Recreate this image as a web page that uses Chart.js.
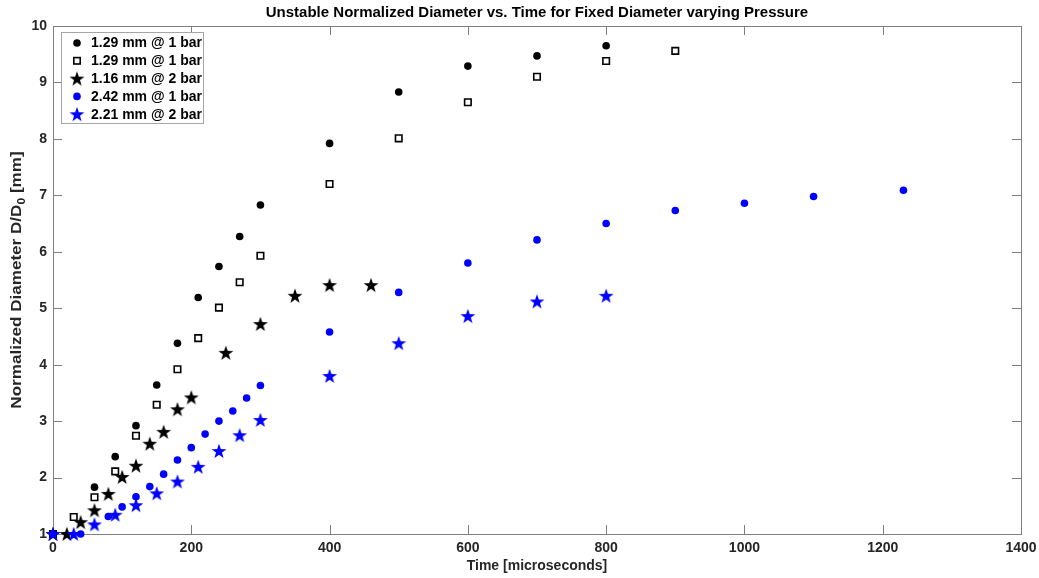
<!DOCTYPE html>
<html>
<head>
<meta charset="utf-8">
<script src="https://cdn.jsdelivr.net/npm/chart.js@4.4.1/dist/chart.umd.min.js"></script>
<style>
  body { margin: 0; background: #fff; }
  #wrap { width: 1039px; height: 578px; }
</style>
</head>
<body>
<div id="wrap"><canvas id="chart" width="1039" height="578"></canvas></div>
<script>
// time in microseconds, normalized diameter D/D0
const dot129T = [0, 60, 90, 120, 150, 180, 210, 240, 270, 300, 400, 500, 600, 700, 800];
const dot129D = [1, 1.83, 2.37, 2.92, 3.64, 4.38, 5.19, 5.74, 6.27, 6.83, 7.92, 8.83, 9.29, 9.47, 9.65];

const sq129T = [0, 30, 60, 90, 120, 150, 180, 210, 240, 270, 300, 400, 500, 600, 700, 800, 900];
const sq129D = [1, 1.3, 1.65, 2.11, 2.74, 3.29, 3.92, 4.47, 5.01, 5.46, 5.93, 7.2, 8.01, 8.65, 9.1, 9.38, 9.56];

const star116T = [0, 20, 40, 60, 80, 100, 120, 140, 160, 180, 200, 250, 300, 350, 400, 460];
const star116D = [1, 1, 1.21, 1.42, 1.71, 2.01, 2.21, 2.6, 2.81, 3.21, 3.42, 4.21, 4.72, 5.22, 5.41, 5.41];

const dot242T = [0, 40, 80, 100, 120, 140, 160, 180, 200, 220, 240, 260, 280, 300, 400, 500, 600, 700, 800, 900, 1000, 1100, 1230];
const dot242D = [1, 1, 1.31, 1.48, 1.66, 1.84, 2.06, 2.31, 2.53, 2.77, 3.0, 3.18, 3.41, 3.63, 4.58, 5.28, 5.8, 6.21, 6.5, 6.73, 6.86, 6.98, 7.09];

const star221T = [0, 30, 60, 90, 120, 150, 180, 210, 240, 270, 300, 400, 500, 600, 700, 800];
const star221D = [1, 1, 1.17, 1.34, 1.51, 1.72, 1.93, 2.19, 2.47, 2.75, 3.02, 3.8, 4.38, 4.86, 5.12, 5.22];

const xTicks = [0, 200, 400, 600, 800, 1000, 1200, 1400];
const yTicks = [1, 2, 3, 4, 5, 6, 7, 8, 9, 10];

const FONT = "'Liberation Sans', Arial, Helvetica, sans-serif";
const AXIS_GRAY = '#7f7f7f';
const TEXT_DARK = '#262626';
const BLUE = '#0000ff';
const TITLE = 'Unstable Normalized Diameter vs. Time for Fixed Diameter varying Pressure';

function pts(t, d) {
  return t.map((v, i) => ({ x: v, y: d[i] }));
}

// filled five point star, matlab pentagram style
function makeStar(color, R) {
  const s = Math.ceil(R * 2 + 2);
  const c = document.createElement('canvas');
  c.width = s; c.height = s;
  const g = c.getContext('2d');
  g.beginPath();
  for (let i = 0; i < 10; i++) {
    const r = i % 2 ? R * 0.4 : R;
    const a = -Math.PI / 2 + i * Math.PI / 5;
    g.lineTo(s / 2 + r * Math.cos(a), s / 2 + 0.6 + r * Math.sin(a));
  }
  g.closePath();
  g.fillStyle = color;
  g.fill();
  return c;
}
const blackStar = makeStar('#000', 7.8);
const blueStar = makeStar(BLUE, 7.8);

const series = [
  { label: '1.29 mm @ 1 bar', data: pts(dot129T, dot129D), pointStyle: 'circle', pointRadius: 3.8,
    backgroundColor: '#000', borderColor: '#000', borderWidth: 0, order: 5 },
  { label: '1.29 mm @ 1 bar', data: pts(sq129T, sq129D), pointStyle: 'rect', pointRadius: 4.6,
    backgroundColor: 'rgba(0,0,0,0)', borderColor: '#000', borderWidth: 1.6, order: 4 },
  { label: '1.16 mm @ 2 bar', data: pts(star116T, star116D), pointStyle: blackStar, pointRadius: 8,
    backgroundColor: '#000', borderColor: '#000', borderWidth: 0, order: 3 },
  { label: '2.42 mm @ 1 bar', data: pts(dot242T, dot242D), pointStyle: 'circle', pointRadius: 3.8,
    backgroundColor: BLUE, borderColor: BLUE, borderWidth: 0, order: 2 },
  { label: '2.21 mm @ 2 bar', data: pts(star221T, star221D), pointStyle: blueStar, pointRadius: 8,
    backgroundColor: BLUE, borderColor: BLUE, borderWidth: 0, order: 1 }
];
series.forEach(s => { s.showLine = false; s.clip = false; s.pointHoverRadius = s.pointRadius; });

// title over the axes, box, inward ticks, y title with subscript, legend
const matlabLook = {
  id: 'matlabLook',
  beforeDatasetsDraw(chart) {
    const { ctx, chartArea: a, scales: { x, y } } = chart;
    ctx.save();
    ctx.fillStyle = '#000';
    ctx.font = 'bold 15px ' + FONT;
    ctx.textAlign = 'center';
    ctx.textBaseline = 'middle';
    ctx.fillText(TITLE, (a.left + a.right) / 2, 13);

    ctx.strokeStyle = AXIS_GRAY;
    ctx.lineWidth = 1;
    ctx.strokeRect(Math.round(a.left) + 0.5, Math.round(a.top) + 0.5,
      Math.round(a.right - a.left), Math.round(a.bottom - a.top));
    ctx.beginPath();
    xTicks.forEach(v => {
      const px = Math.round(x.getPixelForValue(v)) + 0.5;
      ctx.moveTo(px, a.bottom); ctx.lineTo(px, a.bottom - 9);
      ctx.moveTo(px, a.top); ctx.lineTo(px, a.top + 9);
    });
    yTicks.forEach(v => {
      const py = Math.round(y.getPixelForValue(v)) + 0.5;
      ctx.moveTo(a.left, py); ctx.lineTo(a.left + 9, py);
      ctx.moveTo(a.right, py); ctx.lineTo(a.right - 9, py);
    });
    ctx.stroke();

    // y axis title, stretched along its length like the reference
    ctx.translate(17, (a.top + a.bottom) / 2);
    ctx.rotate(-Math.PI / 2);
    ctx.scale(1.22, 1);
    ctx.fillStyle = TEXT_DARK;
    ctx.textBaseline = 'middle';
    ctx.textAlign = 'left';
    const big = 'bold 14px ' + FONT, small = 'bold 10px ' + FONT;
    const p1 = 'Normalized Diameter D/D', p2 = '0', p3 = ' [mm]';
    ctx.font = big; const w1 = ctx.measureText(p1).width, w3 = ctx.measureText(p3).width;
    ctx.font = small; const w2 = ctx.measureText(p2).width;
    let cx = -(w1 + w2 + w3) / 2;
    ctx.font = big; ctx.fillText(p1, cx, 0); cx += w1;
    ctx.font = small; ctx.fillText(p2, cx, 5); cx += w2;
    ctx.font = big; ctx.fillText(p3, cx, 0);
    ctx.restore();
  },
  afterDraw(chart) {
    const ctx = chart.ctx;
    const bx = 61, by = 32, bw = 142, bh = 91;
    ctx.save();
    ctx.fillStyle = '#fff';
    ctx.fillRect(bx, by, bw, bh);
    ctx.strokeStyle = '#a6a6a6';
    ctx.lineWidth = 1;
    ctx.strokeRect(bx + 0.5, by + 0.5, bw, bh);
    ctx.font = 'bold 14px ' + FONT;
    ctx.textBaseline = 'middle';
    ctx.textAlign = 'left';
    chart.data.datasets.forEach((ds, i) => {
      const yy = 43 + i * 17.8, mx = 77;
      if (ds.pointStyle === 'circle') {
        ctx.fillStyle = ds.backgroundColor;
        ctx.beginPath(); ctx.arc(mx, yy, 3.8, 0, Math.PI * 2); ctx.fill();
      } else if (ds.pointStyle === 'rect') {
        ctx.strokeStyle = '#000'; ctx.lineWidth = 1.6;
        ctx.strokeRect(mx - 3.2, yy - 3.2, 6.4, 6.4);
      } else {
        const img = ds.pointStyle;
        ctx.drawImage(img, mx - img.width / 2, yy - img.height / 2);
      }
      ctx.fillStyle = '#000';
      ctx.fillText(ds.label, 91, yy + 0.5);
    });
    ctx.restore();
  }
};

new Chart(document.getElementById('chart'), {
  type: 'scatter',
  data: { datasets: series },
  options: {
    responsive: false,
    animation: false,
    events: [],
    layout: { padding: { left: 0, right: 18, top: 26, bottom: 0 } },
    plugins: {
      legend: { display: false },
      tooltip: { enabled: false },
      title: { display: false }
    },
    scales: {
      x: {
        type: 'linear',
        min: 0, max: 1400,
        grid: { display: false, drawTicks: false },
        border: { display: false },
        afterBuildTicks: s => { s.ticks = xTicks.map(v => ({ value: v })); },
        afterFit: s => { s.height = 44; s.paddingLeft = 0; s.paddingRight = 0; },
        ticks: { color: TEXT_DARK, padding: 6, maxRotation: 0, callback: v => String(v),
          font: { family: FONT, size: 14, weight: 'bold' } },
        title: { display: true, text: 'Time [microseconds]', color: TEXT_DARK,
          font: { family: FONT, size: 14, weight: 'bold' }, padding: { top: 0, bottom: 3.6 } }
      },
      y: {
        type: 'linear',
        min: 1, max: 10,
        grid: { display: false, drawTicks: false },
        border: { display: false },
        afterBuildTicks: s => { s.ticks = yTicks.map(v => ({ value: v })); },
        afterFit: s => { s.width = 53; s.paddingTop = 0; s.paddingBottom = 0; },
        ticks: { color: TEXT_DARK, padding: 6, callback: v => String(v),
          font: { family: FONT, size: 14, weight: 'bold' } }
      }
    }
  },
  plugins: [matlabLook]
});
</script>
</body>
</html>
